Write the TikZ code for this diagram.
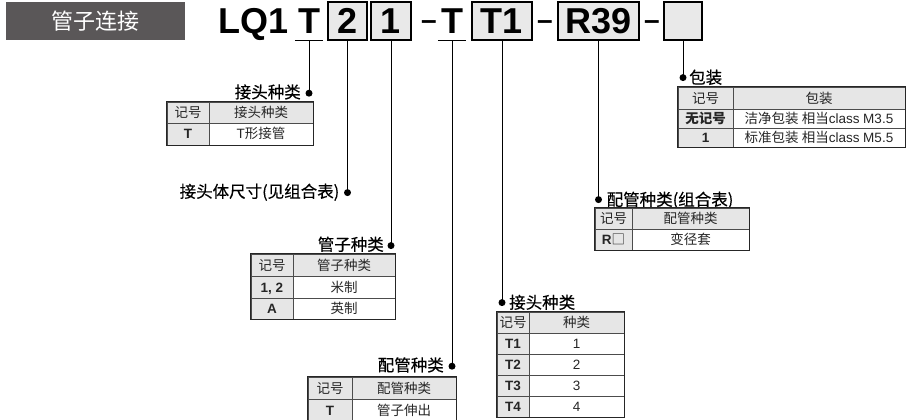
\documentclass[tikz,border=0pt]{standalone}
\usepackage{fontspec}
\setmainfont{Liberation Sans}
\newfontfamily\cjk{Noto Sans CJK SC}
\newfontfamily\cjkm[FakeBold=0.25]{Noto Sans CJK SC}
\usetikzlibrary{calc}
\definecolor{hdrgray}{HTML}{5A5758}
\definecolor{cellgray}{HTML}{E6E6E6}
\definecolor{boxgray}{HTML}{E9E9E9}
\newcommand\tfont{\fontsize{13.5}{15}\selectfont}
\newcommand\lfont{\cjkm\fontsize{16.5}{18}\selectfont}
\newcommand\cfont{\bfseries\fontsize{36}{40}\selectfont}
\newcommand\dfont{\bfseries\fontsize{28}{30}\selectfont}
\newcommand\tcell[7]{\node[tcellst, fill=#6, minimum width=#4-#2, minimum height=#5-#3] (#1) at ({(#2+#4)/2},{(#3+#5)/2}) {#7};}
\tikzset{
  tcellst/.style={draw=black!70, line width=0.6pt, inner sep=0pt, font=\tfont, text=black!85, text height=12pt, text depth=2pt},
  tframe/.style={draw=black!85, line width=1pt},
  codebox/.style={draw=black, line width=1.2pt, fill=boxgray, minimum height=38pt, inner sep=0pt, text height=25.8pt, text depth=0pt, font=\cfont},
  codetxt/.style={minimum height=38pt, inner sep=0pt, text height=25.8pt, text depth=0pt, font=\cfont},
  dashtxt/.style={inner sep=0pt, font=\dfont, anchor=base},
  lead/.style={line width=1pt, draw=black},
  lbl/.style={inner sep=0pt, font=\lfont, text height=14pt, text depth=2pt},
}
\begin{document}
\begin{tikzpicture}[x=1pt,y=-1pt]
\useasboundingbox (0,0) rectangle (906,420);
% header
\node[fill=hdrgray, minimum width=179pt, minimum height=38pt, inner sep=0pt, text=white, font=\cjk\fontsize{22}{24}\selectfont] (hdr) at (95.5,21) {管子连接};
% code
\node[codetxt] (lq) at (253.5,21) {LQ1};
\node[codetxt, minimum width=28pt] (tA) at (309,21) {T};
\draw[line width=1pt] (tA.south west) -- (tA.south east);
\node[codebox, minimum width=39pt] (b2) at (347.5,21) {2};
\node[codebox, minimum width=40pt] (b1) at (391,21) {1};
\node[dashtxt] (m1) at (429,30) {–};
\node[codetxt, minimum width=28pt] (tB) at (452,21) {T};
\draw[line width=1pt] (tB.south west) -- (tB.south east);
\node[codebox, minimum width=60pt] (bT) at (502,21) {T1};
\node[dashtxt] (m2) at (545,30) {–};
\node[codebox, minimum width=81pt] (bR) at (598.5,21) {R39};
\node[dashtxt] (m3) at (652,30) {–};
\node[codebox, minimum width=38pt] (bE) at (683,21) {};
% dots
\path (tA.south) -- ++(0,53) coordinate (d1);
\path (b2.south) -- ++(0,152) coordinate (d2);
\path (b1.south) -- ++(0,205) coordinate (d3);
\path (tB.south) -- ++(0,326) coordinate (d4);
\path (bT.south) -- ++(0,262) coordinate (d5);
\path (bR.south) -- ++(0,159) coordinate (d6);
\path (bE.south) -- ++(0,37) coordinate (d7);
\foreach \a/\b in {tA/d1,b2/d2,b1/d3,tB/d4,bT/d5,bR/d6,bE/d7}{
  \draw[lead] (\a.south) -- (\b);
  \fill (\b) circle (3.5pt);
}
% labels
\node[lbl, anchor=east] (l1) at ($(d1)+(-8,-1)$) {接头种类};
\node[lbl, anchor=east] (l2) at ($(d2)+(-8,-1)$) {接头体尺寸(见组合表)};
\node[lbl, anchor=east] (l3) at ($(d3)+(-7,-1)$) {管子种类};
\node[lbl, anchor=east] (l4) at ($(d4)+(-8,-1)$) {配管种类};
\node[lbl, anchor=west] (l5) at ($(d5)+(7,0)$) {接头种类};
\node[lbl, anchor=west] (l6) at ($(d6)+(8,0)$) {配管种类(组合表)};
\node[lbl, anchor=west] (l7) at ($(d7)+(6,0)$) {包装};
% table 1
\tcell{a11}{167}{102}{209}{123}{cellgray}{\cjk 记号}
\tcell{a12}{209}{102}{313}{123}{cellgray}{\cjk 接头种类}
\tcell{a21}{167}{123}{209}{145}{cellgray}{\bfseries T}
\tcell{a22}{209}{123}{313}{145}{white}{T\cjk 形接管}
\draw[tframe] (a11.north west) rectangle (a22.south east);
% table 2
\tcell{b11}{251}{254}{293}{276}{cellgray}{\cjk 记号}
\tcell{b12}{293}{254}{395}{276}{cellgray}{\cjk 管子种类}
\tcell{b21}{251}{276}{293}{298}{cellgray}{\bfseries 1, 2}
\tcell{b22}{293}{276}{395}{298}{white}{\cjk 米制}
\tcell{b31}{251}{298}{293}{319}{cellgray}{\bfseries A}
\tcell{b32}{293}{298}{395}{319}{white}{\cjk 英制}
\draw[tframe] (b11.north west) rectangle (b32.south east);
% table 3
\tcell{c11}{308}{377}{352}{399}{cellgray}{\cjk 记号}
\tcell{c12}{352}{377}{456}{399}{cellgray}{\cjk 配管种类}
\tcell{c21}{308}{399}{352}{421}{cellgray}{\bfseries T}
\tcell{c22}{352}{399}{456}{421}{white}{\cjk 管子伸出}
\draw[tframe] (c11.north west) rectangle (c22.south east);
% table 4
\tcell{e11}{497}{312}{529}{333}{cellgray}{\cjk 记号}
\tcell{e12}{529}{312}{624}{333}{cellgray}{\cjk 种类}
\tcell{e21}{497}{333}{529}{354}{cellgray}{\bfseries T1}
\tcell{e22}{529}{333}{624}{354}{white}{1}
\tcell{e31}{497}{354}{529}{375}{cellgray}{\bfseries T2}
\tcell{e32}{529}{354}{624}{375}{white}{2}
\tcell{e41}{497}{375}{529}{396}{cellgray}{\bfseries T3}
\tcell{e42}{529}{375}{624}{396}{white}{3}
\tcell{e51}{497}{396}{529}{417}{cellgray}{\bfseries T4}
\tcell{e52}{529}{396}{624}{417}{white}{4}
\draw[tframe] (e11.north west) rectangle (e52.south east);
% table 5
\tcell{f11}{595}{208}{632}{229}{cellgray}{\cjk 记号}
\tcell{f12}{632}{208}{749}{229}{cellgray}{\cjk 配管种类}
\tcell{f21}{595}{229}{632}{250}{cellgray}{\bfseries R{\cjk\mdseries □}}
\tcell{f22}{632}{229}{749}{250}{white}{\cjk 变径套}
\draw[tframe] (f11.north west) rectangle (f22.south east);
% table 6
\tcell{g11}{678}{87}{733}{109}{cellgray}{\cjk 记号}
\tcell{g12}{733}{87}{905}{109}{cellgray}{\cjk 包装}
\tcell{g21}{678}{109}{733}{128}{cellgray}{\cjk\bfseries 无记号}
\tcell{g22}{733}{109}{905}{128}{white}{{\cjk 洁净包装 相当}class M3.5}
\tcell{g31}{678}{128}{733}{147}{cellgray}{\bfseries 1}
\tcell{g32}{733}{128}{905}{147}{white}{{\cjk 标准包装 相当}class M5.5}
\draw[tframe] (g11.north west) rectangle (g32.south east);
\end{tikzpicture}
\end{document}
